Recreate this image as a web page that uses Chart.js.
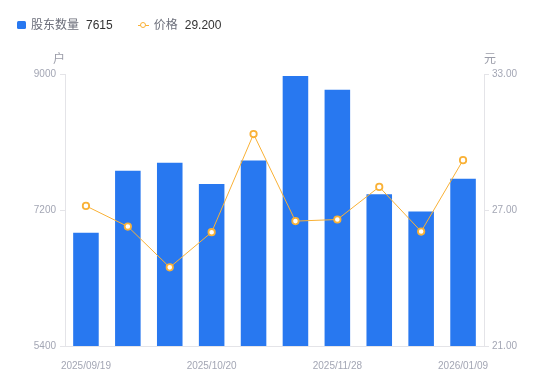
<!DOCTYPE html>
<html>
<head>
<meta charset="utf-8">
<script src="https://cdn.jsdelivr.net/npm/chart.js@4/dist/chart.umd.min.js"></script>
<style>
  html,body{margin:0;padding:0;background:#fff;}
  #wrap{position:relative;width:550px;height:381px;font-family:"Liberation Sans","Noto Sans CJK SC",Arial,sans-serif;}
  canvas{position:absolute;left:0;top:0;}
  .legend{position:absolute;top:17px;left:17px;font-size:12px;line-height:16px;display:flex;align-items:center;white-space:nowrap;}
  .legend .item{display:flex;align-items:center;margin-right:25px;}
  .legend .sq{width:9px;height:8px;background:#2878F0;border-radius:1.5px;margin-right:5px;}
  .legend .ln{position:relative;width:11px;height:8px;margin-right:5px;}
  .legend .ln:before{content:"";position:absolute;left:0;right:0;top:3.5px;height:1.5px;background:#F9B136;}
  .legend .ln:after{content:"";position:absolute;left:2px;top:0.5px;width:4px;height:4px;border:1.5px solid #F9B136;border-radius:50%;background:#fff;}
  .legend .name{color:#6b6e7a;margin-right:7px;}
  .legend .val{color:#333;}
  .unit{position:absolute;font-size:12px;color:#9a9ca8;top:49px;}
</style>
</head>
<body>
<div id="wrap">
  <canvas id="c" width="550" height="381"></canvas>
  <div class="legend">
    <div class="item"><div class="sq"></div><span class="name">股东数量</span><span class="val" id="v1"></span></div>
    <div class="item"><div class="ln"></div><span class="name">价格</span><span class="val" id="v2"></span></div>
  </div>
  <div class="unit" style="left:53px;">户</div>
  <div class="unit" style="left:484px;">元</div>
</div>
<script>
const categories = ['2025/09/19','2025/09/30','2025/10/10','2025/10/20','2025/10/31','2025/11/14','2025/11/28','2025/12/10','2025/12/19','2026/01/09'];
const holders = [6900, 7720, 7825, 7545, 7855, 8975, 8790, 7410, 7180, 7615];
const prices = [27.18, 26.27, 24.47, 26.02, 30.35, 26.51, 26.58, 28.02, 26.05, 29.20];
const leftTicks = [5400, 7200, 9000];
const rightTicks = [21, 27, 33];

document.getElementById('v1').textContent = holders[holders.length-1];
document.getElementById('v2').textContent = prices[prices.length-1].toFixed(3);

const tickFont = {family:'"Liberation Sans", Arial, sans-serif', size:10};
const tickColor = '#a3a6b4';
const axisColor = '#e4e4e8';

new Chart(document.getElementById('c'), {
  data: {
    labels: categories,
    datasets: [
      {
        type: 'line',
        label: '价格',
        data: prices,
        yAxisID: 'y1',
        borderColor: '#F9B136',
        borderWidth: 1,
        pointRadius: 3.2,
        pointBorderWidth: 1.8,
        pointBackgroundColor: '#fff',
        pointBorderColor: '#F9B136',
        tension: 0,
        order: 0
      },
      {
        type: 'bar',
        label: '股东数量',
        data: holders,
        yAxisID: 'y',
        backgroundColor: '#2878F0',
        borderWidth: 0,
        barPercentage: 0.61,
        categoryPercentage: 1,
        order: 1
      }
    ]
  },
  options: {
    responsive: false,
    animation: false,
    layout: {padding: {top: 74, left: 0, right: 0, bottom: 0}},
    plugins: {legend: {display: false}, tooltip: {enabled: false}},
    scales: {
      x: {
        grid: {display: false},
        border: {display: true, color: axisColor},
        ticks: {
          autoSkip: false, maxRotation: 0, minRotation: 0, padding: 6,
          color: tickColor, font: tickFont,
          callback: function(v, i){ return i % 3 === 0 ? categories[i] : ''; }
        },
        afterFit: s => { s.height = 35; }
      },
      y: {
        position: 'left',
        min: leftTicks[0], max: leftTicks[leftTicks.length-1],
        afterBuildTicks: s => { s.ticks = leftTicks.map(v => ({value: v})); },
        grid: {drawOnChartArea: false, drawTicks: true, tickLength: 5, color: axisColor},
        border: {display: true, color: axisColor},
        ticks: {padding: 4, color: tickColor, font: tickFont, callback: v => String(v)},
        afterFit: s => { s.width = 65; }
      },
      y1: {
        position: 'right',
        min: rightTicks[0], max: rightTicks[rightTicks.length-1],
        afterBuildTicks: s => { s.ticks = rightTicks.map(v => ({value: v})); },
        grid: {drawOnChartArea: false, drawTicks: true, tickLength: 5, color: axisColor},
        border: {display: true, color: axisColor},
        ticks: {padding: 3, color: tickColor, font: tickFont, callback: v => Number(v).toFixed(2)},
        afterFit: s => { s.width = 66; }
      }
    }
  }
});
</script>
</body>
</html>
